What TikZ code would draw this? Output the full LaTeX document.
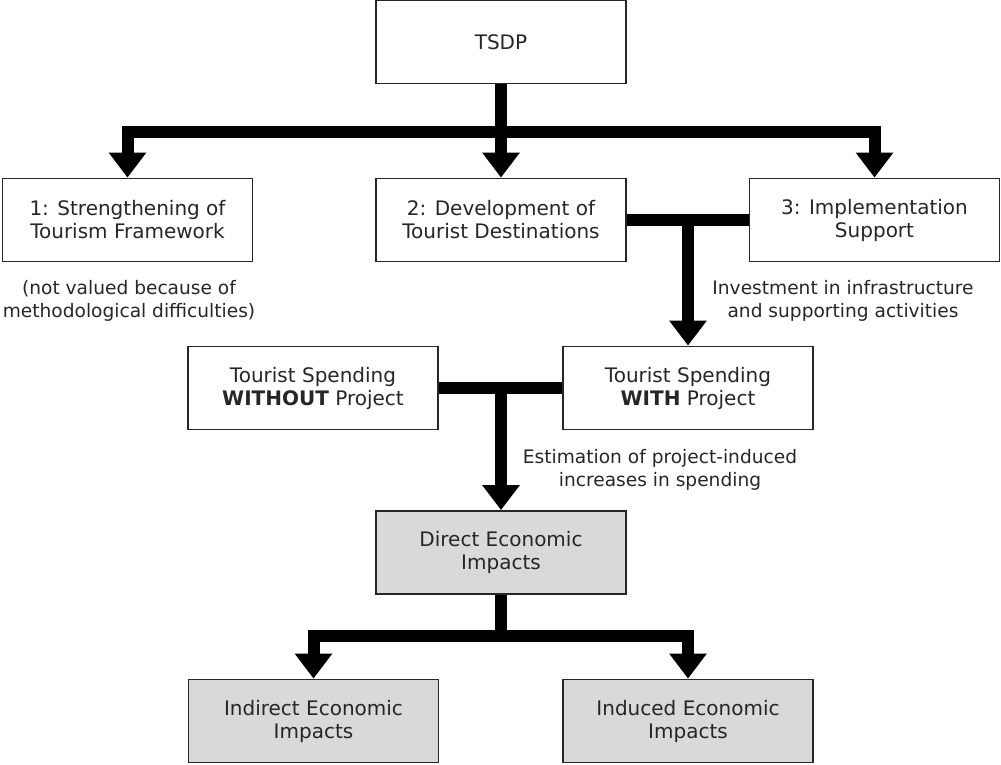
\documentclass[tikz,border=0pt]{standalone}
\usepackage{fontspec}
\setmainfont{DejaVu Sans}
\usetikzlibrary{arrows.meta}
\definecolor{boxgray}{HTML}{D9D9D9}
\definecolor{txt}{HTML}{262626}
\begin{document}
\begin{tikzpicture}[x=1pt,y=-1pt,
  box/.style={draw=txt,line width=1.8pt,minimum width=250pt,minimum height=83pt,inner sep=0pt,
    align=center,text=txt,font=\fontsize{20}{23}\selectfont},
  gbox/.style={box,fill=boxgray},
  lbl/.style={align=center,text=txt,font=\fontsize{18.6}{23}\selectfont,inner sep=0pt},
  bar/.style={line width=12pt,black},
  arr/.style={line width=12pt,black,-{Triangle[width=36pt,length=25pt]}}]
\useasboundingbox (0,0) rectangle (1001,765);
\node[box] (tsdp) at (501,42) {TSDP};
\node[box] (b1) at (127.5,220) {1: Strengthening of\\Tourism Framework};
\node[box] (b2) at (501,220) {2: Development of\\Tourist Destinations};
\node[box] (b3) at (874.5,220) {3: Implementation\\Support};
\node[box] (wo) at (313,388) {Tourist Spending\\\textbf{WITHOUT} Project};
\node[box] (wi) at (688,388) {Tourist Spending\\\textbf{WITH} Project};
\node[gbox] (dir) at (501,552.5) {Direct Economic\\Impacts};
\node[gbox] (ind) at (313.5,721) {Indirect Economic\\Impacts};
\node[gbox] (inu) at (688,721) {Induced Economic\\Impacts};
\node[lbl] (l1) at (129,301) {(not valued because of\\methodological difficulties)};
\node[lbl] (l2) at (843,301) {Investment in infrastructure\\and supporting activities};
\node[lbl] (l3) at (660,470) {Estimation of project-induced\\increases in spending};
% top tree
\coordinate (j1) at (501,132);
\draw[arr] (tsdp.south) -- (b2.north);
\draw[arr] (j1) -| (b1.north);
\draw[arr] (j1) -| (b3.north);
% investment
\draw[bar] (b2.east) -- (b3.west);
\draw[arr] (b2.east -| wi.north) -- (wi.north);
% spending
\draw[bar] (wo.east) -- (wi.west);
\draw[arr] (wo.east -| dir.north) -- (dir.north);
% impacts
\coordinate (j2) at (501,636);
\draw[bar] (dir.south) -- (j2);
\draw[arr] (j2) -| (ind.north);
\draw[arr] (j2) -| (inu.north);
\end{tikzpicture}
\end{document}
